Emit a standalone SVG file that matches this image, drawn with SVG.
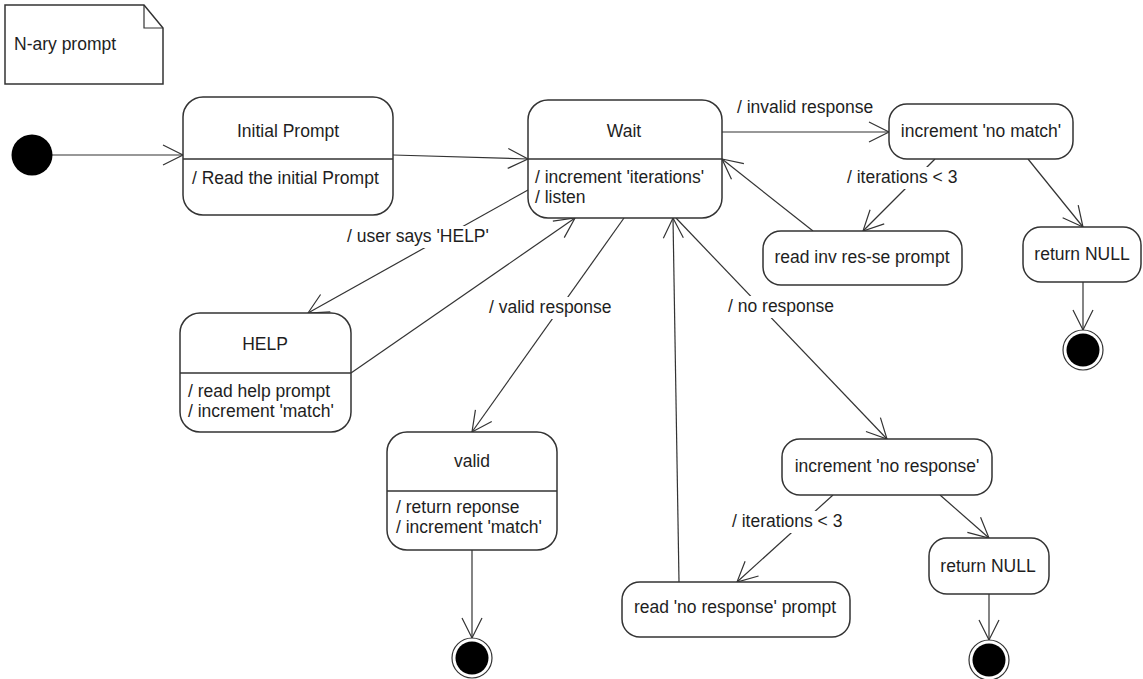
<svg xmlns="http://www.w3.org/2000/svg" width="1143" height="679" viewBox="0 0 1143 679">
<style>
text{font-family:"Liberation Sans",Arial,sans-serif;font-size:17.5px;fill:#1e1e1e}
.box{fill:#fff;stroke:#333;stroke-width:1.5}
.div{stroke:#333;stroke-width:1.5}
.c{fill:none;stroke:#333;stroke-width:1.2;marker-end:url(#v)}
.bg{fill:#fff}
.mid{text-anchor:middle}
</style>
<defs>
<marker id="v" markerUnits="userSpaceOnUse" markerWidth="24" markerHeight="24" refX="20" refY="10" orient="auto" overflow="visible">
<path d="M0,0 L20,10 L0,20" fill="none" stroke="#333" stroke-width="1.2"/>
</marker>
</defs>
<g id="note">
<path d="M5,5 L144,5 L163,28 L163,84 L5,84 Z" class="box"/>
<path d="M144,5 L144,28 L163,28" fill="none" stroke="#333" stroke-width="1.2"/>
<text x="14" y="50">N-ary prompt</text>
</g>
<g id="connectors">
<line class="c" x1="52" y1="155" x2="183" y2="155"/>
<line class="c" x1="393" y1="155" x2="528" y2="159"/>
<line class="c" x1="722" y1="132" x2="889" y2="132"/>
<line class="c" x1="935" y1="159" x2="863" y2="231"/>
<line class="c" x1="813" y1="231" x2="722" y2="159"/>
<line class="c" x1="1028" y1="159" x2="1083" y2="227"/>
<line class="c" x1="1083" y1="282" x2="1083" y2="330"/>
<line class="c" x1="528" y1="190" x2="308" y2="313"/>
<line class="c" x1="351" y1="373" x2="575" y2="218"/>
<line class="c" x1="624" y1="218" x2="472" y2="432"/>
<line class="c" x1="472" y1="550" x2="472" y2="638"/>
<line class="c" x1="679" y1="582" x2="673" y2="218"/>
<line class="c" x1="676" y1="218" x2="887" y2="439"/>
<line class="c" x1="833" y1="495" x2="737" y2="582"/>
<line class="c" x1="940" y1="495" x2="989" y2="538"/>
<line class="c" x1="989" y1="594" x2="989" y2="640"/>
<text x="737" y="113">/ invalid response</text>
<rect class="bg" x="344" y="226" width="148" height="22"/>
<text x="347" y="242">/ user says 'HELP'</text>
<rect class="bg" x="486" y="297" width="128" height="22"/>
<text x="489" y="313">/ valid response</text>
<rect class="bg" x="725" y="296" width="112" height="22"/>
<text x="728" y="312">/ no response</text>
<rect class="bg" x="845" y="167" width="115" height="22"/>
<text x="847" y="183">/ iterations &lt; 3</text>
<rect class="bg" x="730" y="511" width="115" height="22"/>
<text x="732" y="527">/ iterations &lt; 3</text>
</g>
<g id="initial">
<circle cx="32" cy="155" r="20.5" fill="#000"/>
</g>
<g id="initial-prompt">
<rect class="box" x="183" y="97" width="210" height="118" rx="20"/>
<line class="div" x1="183" y1="159" x2="393" y2="159"/>
<text class="mid" x="288" y="137">Initial Prompt</text>
<text x="192" y="184">/ Read the initial Prompt</text>
</g>
<g id="wait">
<rect class="box" x="528" y="100" width="194" height="118" rx="20"/>
<line class="div" x1="528" y1="159" x2="722" y2="159"/>
<text class="mid" x="624" y="137">Wait</text>
<text x="535" y="183">/ increment 'iterations'</text>
<text x="535" y="203">/ listen</text>
</g>
<g id="inc-no-match">
<rect class="box" x="889" y="104" width="184" height="55" rx="18"/>
<text class="mid" x="981" y="137">increment 'no match'</text>
</g>
<g id="read-inv">
<rect class="box" x="763" y="231" width="199" height="54" rx="18"/>
<text class="mid" x="862" y="263">read inv res-se prompt</text>
</g>
<g id="return-null-1">
<rect class="box" x="1023" y="227" width="118" height="55" rx="18"/>
<text class="mid" x="1082" y="260">return NULL</text>
</g>
<g id="final-1">
<circle cx="1083" cy="350" r="20" fill="#fff" stroke="#333" stroke-width="1.2"/>
<circle cx="1083" cy="350" r="16.5" fill="#000"/>
</g>
<g id="help">
<rect class="box" x="180" y="313" width="171" height="119" rx="20"/>
<line class="div" x1="180" y1="373" x2="351" y2="373"/>
<text class="mid" x="265" y="350">HELP</text>
<text x="188" y="397">/ read help prompt</text>
<text x="188" y="417">/ increment 'match'</text>
</g>
<g id="valid">
<rect class="box" x="387" y="432" width="170" height="118" rx="20"/>
<line class="div" x1="387" y1="491" x2="557" y2="491"/>
<text class="mid" x="472" y="467">valid</text>
<text x="396" y="513">/ return reponse</text>
<text x="396" y="533">/ increment 'match'</text>
</g>
<g id="final-2">
<circle cx="472" cy="658" r="20" fill="#fff" stroke="#333" stroke-width="1.2"/>
<circle cx="472" cy="658" r="16.5" fill="#000"/>
</g>
<g id="inc-no-response">
<rect class="box" x="782" y="439" width="210" height="56" rx="18"/>
<text class="mid" x="887" y="472">increment 'no response'</text>
</g>
<g id="read-no-response">
<rect class="box" x="622" y="582" width="228" height="55" rx="18"/>
<text class="mid" x="735" y="613">read 'no response' prompt</text>
</g>
<g id="return-null-2">
<rect class="box" x="929" y="538" width="120" height="56" rx="18"/>
<text class="mid" x="988" y="572">return NULL</text>
</g>
<g id="final-3">
<circle cx="989" cy="660" r="20" fill="#fff" stroke="#333" stroke-width="1.2"/>
<circle cx="989" cy="660" r="16.5" fill="#000"/>
</g>
</svg>
